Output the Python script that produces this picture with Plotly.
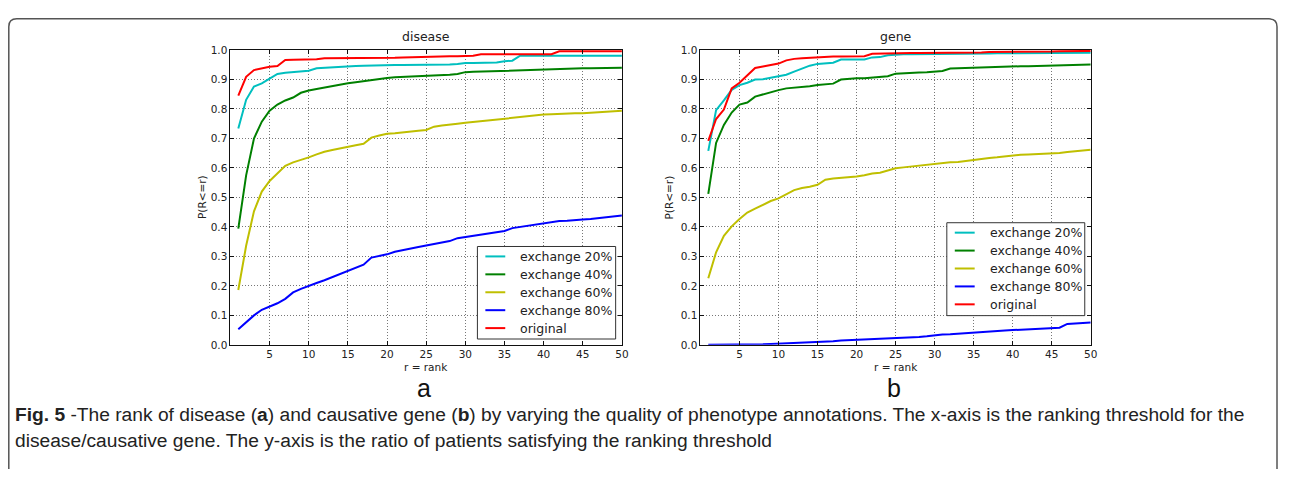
import plotly.graph_objects as go
from plotly.subplots import make_subplots

# page is 1293x477; the html body keeps its 8px margin, so the figure is 16px smaller
PAGE_W, PAGE_H, BODY = 1293, 477, 8
W, H = PAGE_W - 2 * BODY, PAGE_H - 2 * BODY

rank = list(range(1, 51))
series_names = ["exchange 20%", "exchange 40%", "exchange 60%", "exchange 80%", "original"]
series_colors = ["#00BFBF", "#008000", "#BFBF00", "#0000FF", "#FF0000"]

# panel a: disease
disease_20 = [0.734, 0.831, 0.876, 0.887, 0.903, 0.919, 0.923, 0.925, 0.927, 0.930,
              0.938, 0.940, 0.942, 0.944, 0.945, 0.946, 0.947, 0.948, 0.948, 0.948,
              0.949, 0.949, 0.949, 0.949, 0.950, 0.950, 0.950, 0.951, 0.953, 0.956,
              0.956, 0.957, 0.957, 0.958, 0.962, 0.964, 0.981, 0.981, 0.981, 0.981,
              0.981, 0.981, 0.981, 0.981, 0.981, 0.981, 0.981, 0.981, 0.981, 0.981]
disease_40 = [0.394, 0.575, 0.700, 0.757, 0.794, 0.815, 0.829, 0.839, 0.855, 0.863,
              0.868, 0.873, 0.879, 0.884, 0.887, 0.891, 0.895, 0.897, 0.901, 0.905,
              0.908, 0.909, 0.910, 0.911, 0.912, 0.913, 0.914, 0.916, 0.919, 0.925,
              0.926, 0.927, 0.928, 0.928, 0.929, 0.930, 0.931, 0.932, 0.933, 0.934,
              0.935, 0.936, 0.937, 0.937, 0.938, 0.938, 0.939, 0.939, 0.940, 0.940]
disease_60 = [0.186, 0.336, 0.453, 0.520, 0.556, 0.582, 0.607, 0.619, 0.627, 0.636,
              0.646, 0.655, 0.661, 0.667, 0.671, 0.677, 0.682, 0.703, 0.710, 0.716,
              0.718, 0.720, 0.722, 0.726, 0.729, 0.740, 0.744, 0.748, 0.750, 0.753,
              0.756, 0.759, 0.761, 0.763, 0.768, 0.771, 0.774, 0.777, 0.779, 0.781,
              0.782, 0.784, 0.785, 0.786, 0.786, 0.787, 0.789, 0.791, 0.792, 0.794]
disease_80 = [0.053, 0.076, 0.100, 0.119, 0.130, 0.141, 0.156, 0.178, 0.190, 0.201,
              0.210, 0.219, 0.230, 0.241, 0.252, 0.263, 0.272, 0.296, 0.301, 0.307,
              0.316, 0.322, 0.328, 0.332, 0.337, 0.342, 0.348, 0.352, 0.362, 0.366,
              0.369, 0.373, 0.377, 0.382, 0.386, 0.396, 0.400, 0.404, 0.408, 0.413,
              0.417, 0.420, 0.421, 0.422, 0.425, 0.427, 0.430, 0.433, 0.437, 0.439]
disease_orig = [0.845, 0.909, 0.932, 0.938, 0.943, 0.946, 0.966, 0.967, 0.967, 0.968,
                0.969, 0.972, 0.972, 0.972, 0.972, 0.972, 0.973, 0.973, 0.973, 0.974,
                0.974, 0.975, 0.976, 0.976, 0.977, 0.978, 0.978, 0.979, 0.979, 0.980,
                0.981, 0.986, 0.986, 0.986, 0.986, 0.986, 0.986, 0.986, 0.986, 0.986,
                0.986, 0.996, 0.996, 0.996, 0.996, 0.996, 0.996, 0.996, 0.996, 0.996]

# panel b: gene
gene_20 = [0.658, 0.796, 0.829, 0.865, 0.881, 0.889, 0.900, 0.901, 0.906, 0.910,
           0.916, 0.927, 0.938, 0.947, 0.953, 0.954, 0.957, 0.968, 0.968, 0.968,
           0.968, 0.975, 0.976, 0.982, 0.985, 0.986, 0.986, 0.986, 0.987, 0.987,
           0.987, 0.987, 0.988, 0.988, 0.988, 0.988, 0.988, 0.989, 0.989, 0.989,
           0.989, 0.989, 0.990, 0.990, 0.990, 0.990, 0.990, 0.991, 0.991, 0.991]
gene_40 = [0.512, 0.685, 0.746, 0.788, 0.815, 0.822, 0.842, 0.850, 0.857, 0.864,
           0.870, 0.872, 0.875, 0.877, 0.881, 0.883, 0.886, 0.900, 0.903, 0.904,
           0.904, 0.906, 0.908, 0.911, 0.920, 0.922, 0.923, 0.924, 0.925, 0.928,
           0.929, 0.937, 0.938, 0.939, 0.941, 0.941, 0.942, 0.943, 0.943, 0.944,
           0.945, 0.945, 0.946, 0.947, 0.948, 0.948, 0.949, 0.950, 0.950, 0.951]
gene_60 = [0.226, 0.314, 0.370, 0.402, 0.427, 0.449, 0.462, 0.475, 0.488, 0.497,
           0.511, 0.525, 0.532, 0.536, 0.543, 0.560, 0.564, 0.566, 0.568, 0.571,
           0.575, 0.581, 0.584, 0.591, 0.599, 0.602, 0.605, 0.609, 0.612, 0.615,
           0.617, 0.619, 0.620, 0.624, 0.627, 0.630, 0.634, 0.636, 0.639, 0.643,
           0.645, 0.646, 0.647, 0.648, 0.650, 0.651, 0.654, 0.656, 0.659, 0.662]
gene_80 = [0.000, 0.000, 0.000, 0.001, 0.001, 0.001, 0.002, 0.002, 0.003, 0.004,
           0.005, 0.006, 0.007, 0.008, 0.009, 0.011, 0.012, 0.015, 0.016, 0.018,
           0.019, 0.020, 0.021, 0.022, 0.023, 0.025, 0.026, 0.027, 0.029, 0.033,
           0.035, 0.036, 0.038, 0.040, 0.042, 0.045, 0.046, 0.047, 0.049, 0.050,
           0.051, 0.053, 0.054, 0.055, 0.057, 0.058, 0.071, 0.073, 0.075, 0.076]
gene_orig = [0.692, 0.766, 0.798, 0.870, 0.889, 0.915, 0.939, 0.944, 0.948, 0.954,
             0.965, 0.970, 0.972, 0.974, 0.975, 0.977, 0.978, 0.978, 0.978, 0.978,
             0.979, 0.987, 0.988, 0.988, 0.989, 0.989, 0.990, 0.990, 0.990, 0.990,
             0.991, 0.991, 0.991, 0.992, 0.992, 0.992, 0.993, 0.993, 0.993, 0.994,
             0.994, 0.994, 0.995, 0.995, 0.995, 0.996, 0.996, 0.996, 0.997, 0.997]

panels = [
    ("disease", [disease_20, disease_40, disease_60, disease_80, disease_orig]),
    ("gene", [gene_20, gene_40, gene_60, gene_80, gene_orig]),
]
x_ticks = [5, 10, 15, 20, 25, 30, 35, 40, 45, 50]
y_ticks = [0.0, 0.1, 0.2, 0.3, 0.4, 0.5, 0.6, 0.7, 0.8, 0.9, 1.0]


# page pixel -> paper coords
def px_x(v):
    return (v - BODY) / W


def px_y(v):
    return 1 - (v - BODY) / H


fig = make_subplots(rows=1, cols=2)

for col, (title, values) in enumerate(panels, start=1):
    for name, color, ys in zip(series_names, series_colors, values):
        fig.add_trace(go.Scatter(x=rank, y=ys, mode="lines", name=name,
                                 line=dict(color=color, width=2),
                                 showlegend=False, hoverinfo="x+y+name"),
                      row=1, col=col)

axis_font = dict(family="DejaVu Sans", size=10.5, color="#222")
common_axis = dict(showline=True, linecolor="#111", linewidth=1, mirror="ticks",
                   ticks="inside", ticklen=4, tickcolor="#111",
                   showgrid=True, gridcolor="#777", gridwidth=1, griddash="1px,2px",
                   zeroline=False, tickfont=axis_font)

# plot areas in page pixels: left 231.7-625.3, right 704.3-1096.7, y 45-347.7
fig.update_xaxes(common_axis, range=[0, 50], tickvals=x_ticks)
fig.update_yaxes(common_axis, range=[0, 1], tickvals=y_ticks, tickformat=".1f",
                 domain=[px_y(347.7), px_y(45)])
fig.update_xaxes(domain=[px_x(231.7), px_x(625.3)], row=1, col=1)
fig.update_xaxes(domain=[px_x(704.3), px_x(1096.7)], row=1, col=2)

annotations = []
for title, cx, ylab_x, letter in [("disease", 428.5, 203, "a"), ("gene", 900.5, 673, "b")]:
    annotations.append(dict(text=title, x=px_x(cx), y=px_y(41), xref="paper", yref="paper",
                            xanchor="center", yanchor="bottom", showarrow=False,
                            font=dict(family="DejaVu Sans", size=12.5, color="#222")))
    annotations.append(dict(text="r = rank", x=px_x(cx), y=px_y(370), xref="paper", yref="paper",
                            xanchor="center", yanchor="middle", showarrow=False,
                            font=dict(family="DejaVu Sans", size=10.5, color="#222")))
    annotations.append(dict(text="P(R<=r)", x=px_x(ylab_x), y=px_y(196), xref="paper", yref="paper",
                            xanchor="center", yanchor="middle", showarrow=False, textangle=-90,
                            font=dict(family="DejaVu Sans", size=10.5, color="#222")))
    annotations.append(dict(text=letter, x=px_x(cx - 2), y=px_y(392), xref="paper", yref="paper",
                            xanchor="center", yanchor="middle", showarrow=False, borderpad=0,
                            font=dict(family="Liberation Sans", size=25, color="#111")))

caption_1 = ("<b>Fig. 5</b> -The rank of disease (<b>a</b>) and causative gene (<b>b</b>) by varying "
             "the quality of phenotype annotations. The x-axis is the ranking threshold for the")
caption_2 = "disease/causative gene. The y-axis is the ratio of patients satisfying the ranking threshold"
for text, cy in [(caption_1, 419), (caption_2, 446)]:
    annotations.append(dict(text=text, x=px_x(14), y=px_y(cy), xref="paper", yref="paper",
                            xanchor="left", yanchor="middle", showarrow=False, align="left",
                            borderpad=0,
                            font=dict(family="Liberation Sans", size=19.2, color="#222")))

shapes = []

# rounded frame around the whole figure (bottom runs off the page)
x0, x1, y0, r = px_x(8.8), px_x(1284), px_y(13), 8
frame_path = (f"M {x0},{px_y(490)} L {x0},{px_y(13 + r)} "
              f"Q {x0},{y0} {px_x(8.8 + r)},{y0} L {px_x(1284 - r)},{y0} "
              f"Q {x1},{y0} {x1},{px_y(13 + r)} L {x1},{px_y(490)}")
shapes.append(dict(type="path", path=frame_path, xref="paper", yref="paper",
                   line=dict(color="#555", width=1.5)))

# matplotlib-style legend boxes (left, top, right, bottom in page pixels)
legend_boxes = [(480, 246.7, 619, 341.7), (952, 222.3, 1090.7, 317.7)]
for bl, bt, br, bb in legend_boxes:
    shapes.append(dict(type="rect", x0=px_x(bl), x1=px_x(br), y0=px_y(bb), y1=px_y(bt),
                       xref="paper", yref="paper", fillcolor="white",
                       line=dict(color="#333", width=1)))
    for i, (name, color) in enumerate(zip(series_names, series_colors)):
        ey = bt + 10.2 + 18.4 * i
        shapes.append(dict(type="line", x0=px_x(bl + 8), x1=px_x(bl + 28),
                           y0=px_y(ey), y1=px_y(ey), xref="paper", yref="paper",
                           line=dict(color=color, width=2)))
        annotations.append(dict(text=name, x=px_x(bl + 41), y=px_y(ey), xref="paper", yref="paper",
                                xanchor="left", yanchor="middle", showarrow=False,
                                font=dict(family="DejaVu Sans", size=12.5, color="#222")))

fig.update_layout(
    width=W, height=H,
    margin=dict(l=0, r=0, t=0, b=0),
    paper_bgcolor="white", plot_bgcolor="white",
    annotations=annotations,
    shapes=shapes,
    showlegend=False,
)

fig.write_html("out.html", config={"displayModeBar": False})
